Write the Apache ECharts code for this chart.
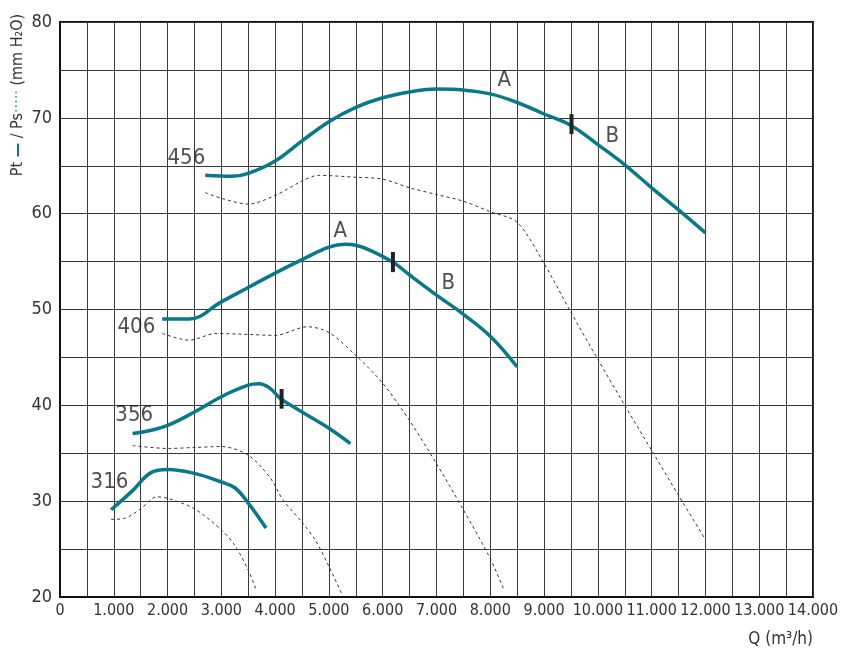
<!DOCTYPE html>
<html>
<head>
<meta charset="utf-8">
<script src="https://cdn.jsdelivr.net/npm/echarts@6/dist/echarts.min.js"></script>
<style>
  html, body { margin: 0; padding: 0; background: #fff; }
  #chartFan { width: 850px; height: 651px; }
</style>
</head>
<body>
<div id="chartFan"></div>
<script>
// Pt (solid) / Ps (dashed) curves, [Q m3/h, mm H2O]
var pt456 = [[2700, 64], [3200, 63.9], [3500, 64.2], [4000, 65.5], [4500, 67.6], [5000, 69.6], [5500, 71.1], [6000, 72.1], [6500, 72.7], [7000, 73.0], [7500, 72.9], [8000, 72.5], [8500, 71.6], [9000, 70.4], [9500, 69.2], [10000, 67.2], [10500, 65.1], [11000, 62.7], [11500, 60.4], [12000, 58.0]];
var ps456 = [[2700, 62.2], [3000, 61.6], [3500, 61.0], [4000, 61.9], [4500, 63.4], [4800, 64.0], [5500, 63.8], [6000, 63.6], [6500, 62.7], [7000, 62.0], [7500, 61.3], [8000, 60.2], [8500, 59.1], [9000, 54.8], [9500, 49.7], [10000, 44.8], [10500, 40.0], [11000, 35.3], [11500, 30.6], [12000, 26.0]];
var pt406 = [[1900, 49], [2400, 49], [3000, 50.8], [3500, 52.3], [4000, 53.8], [4500, 55.2], [5000, 56.5], [5300, 56.8], [5500, 56.7], [5800, 56.1], [6200, 54.9], [6500, 53.6], [7000, 51.5], [7500, 49.5], [8000, 47.2], [8500, 44.0]];
var ps406 = [[1900, 47.5], [2400, 46.8], [2900, 47.5], [3500, 47.4], [4000, 47.3], [4600, 48.2], [5000, 47.6], [5500, 45.2], [6000, 42.3], [6500, 38.4], [7000, 33.9], [7500, 29.1], [8000, 24.0], [8250, 20.8]];
var pt356 = [[1350, 37.05], [1700, 37.4], [2000, 37.9], [2500, 39.3], [3000, 40.9], [3500, 42.1], [3700, 42.25], [3900, 41.8], [4100, 40.7], [4500, 39.3], [5000, 37.6], [5400, 36.0]];
var ps356 = [[1350, 35.8], [2000, 35.5], [2500, 35.6], [3000, 35.7], [3500, 34.8], [3900, 32.5], [4150, 30.1], [4500, 27.8], [4750, 25.9], [5000, 23.2], [5250, 20.2]];
var pt316 = [[950, 29.1], [1350, 31.1], [1700, 33.0], [2000, 33.3], [2500, 32.9], [3000, 32.0], [3250, 31.4], [3500, 29.8], [3830, 27.2]];
var ps316 = [[950, 28.1], [1200, 28.2], [1500, 29.2], [1800, 30.45], [2000, 30.3], [2500, 29.2], [3000, 27.0], [3250, 25.4], [3500, 22.8], [3650, 20.7]];

// A/B boundary marks
var mark456 = [[9510, 68.3], [9510, 70.4]];
var mark406 = [[6190, 53.9], [6190, 56.0]];
var mark356 = [[4120, 39.65], [4120, 41.7]];

// curve names and A/B letters
var curveNames = ['456', '406', '356', '316'];
var curveNamePos = [[2350, 65.8], [1420, 48.1], [1380, 39.0], [920, 32.0]];
var zoneNames = ['A', 'B', 'A', 'B'];
var zoneNamePos = [[8260, 73.9], [10270, 68.1], [5210, 58.2], [7220, 52.7]];

var xMin = 0, xMax = 14000, xStep = 500;
var yMin = 20, yMax = 80, yStep = 5;

var teal = '#08798a';
var narrow = '"Liberation Sans Narrow", "DejaVu Sans Condensed", sans-serif';

function solid(data) {
  return {
    type: 'line', data: data, symbol: 'none', smooth: 0.4, silent: true,
    lineStyle: { width: 3.5, color: teal }, z: 4
  };
}
function dashed(data) {
  return {
    type: 'line', data: data, symbol: 'none', smooth: 0.3, silent: true,
    lineStyle: { width: 1, color: '#333', type: [3, 3] }, z: 3
  };
}
function bar(data) {
  return {
    type: 'line', data: data, symbol: 'none', silent: true,
    lineStyle: { width: 4, color: '#222' }, z: 5
  };
}
function pairs(names, pos) {
  return names.map(function(n, i) { return { name: n, value: pos[i] }; });
}
function labels(names, pos) {
  return {
    type: 'scatter', data: pairs(names, pos), symbolSize: 0, silent: true,
    label: {
      show: true, position: 'inside', formatter: '{b}',
      color: '#222', fontSize: 22, fontFamily: narrow
    }, z: 6
  };
}

var option = {
  animation: false,
  grid: {
    left: 60, right: 37, top: 22, bottom: 54,
    show: true, borderColor: '#111', borderWidth: 2
  },
  xAxis: {
    type: 'value', min: xMin, max: xMax, interval: xStep,
    axisLine: { show: true, lineStyle: { color: '#111', width: 2 } },
    axisTick: { show: false },
    splitLine: { show: true, lineStyle: { color: '#3a3a3a', width: 1 } },
    axisLabel: {
      color: '#333', fontSize: 16, fontFamily: narrow, margin: 6,
      formatter: function(v) {
        if (v % 1000 !== 0) return '';
        return v === 0 ? '0' : (v / 1000) + '.000';
      }
    }
  },
  yAxis: {
    type: 'value', min: yMin, max: yMax, interval: yStep,
    axisLine: { show: true, lineStyle: { color: '#111', width: 2 } },
    axisTick: { show: false },
    splitLine: { show: true, lineStyle: { color: '#3a3a3a', width: 1 } },
    axisLabel: {
      color: '#333', fontSize: 18, fontFamily: narrow, margin: 8,
      formatter: function(v) { return v % 10 === 0 ? String(v) : ''; }
    }
  },
  graphic: [
    {
      type: 'text', x: 18, y: 95, rotation: Math.PI / 2,
      style: {
        text: '{a|Pt }{b|—}{a| / Ps}{c|·····}{a| (mm H₂O)}',
        align: 'center', verticalAlign: 'middle',
        rich: {
          a: { fontSize: 16, fontFamily: narrow, fill: '#333' },
          b: { fontSize: 16, fontFamily: narrow, fill: teal, fontWeight: 'bold' },
          c: { fontSize: 16, fontFamily: narrow, fill: '#4a9fb0' }
        }
      }
    },
    {
      type: 'text', x: 813, y: 640,
      style: {
        text: 'Q (m³/h)', align: 'right', verticalAlign: 'middle',
        fontSize: 17, fontFamily: narrow, fill: '#333'
      }
    }
  ],
  series: [
    dashed(ps456), dashed(ps406), dashed(ps356), dashed(ps316),
    solid(pt456), solid(pt406), solid(pt356), solid(pt316),
    bar(mark456), bar(mark406), bar(mark356),
    labels(curveNames, curveNamePos),
    labels(zoneNames, zoneNamePos)
  ]
};

var chartFan = echarts.init(document.getElementById('chartFan'));
chartFan.setOption(option);
window.addEventListener('resize', () => {
  chartFan.resize();
});
</script>
</body>
</html>
